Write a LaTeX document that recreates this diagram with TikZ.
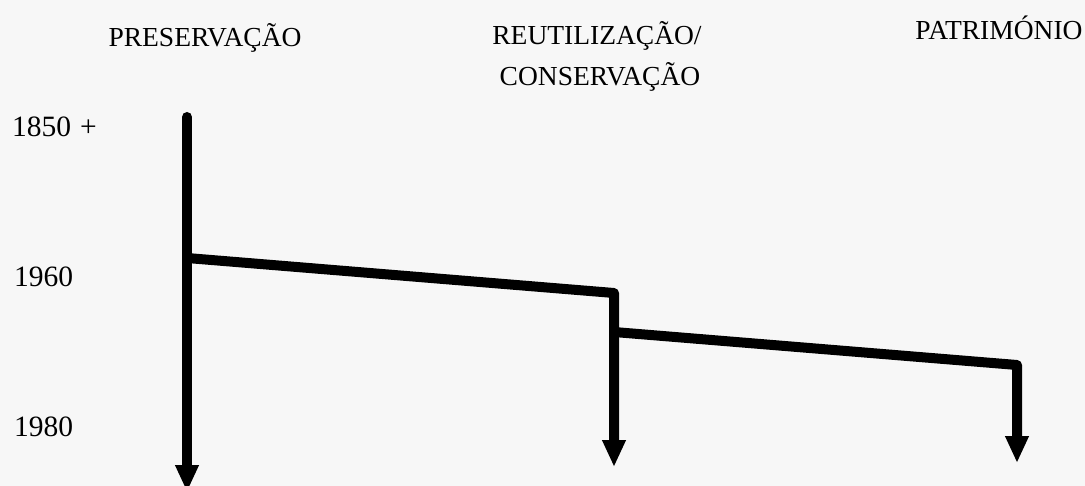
\documentclass[tikz,border=0pt]{standalone}
\usepackage{fontspec}
\setmainfont{Liberation Serif}
\usetikzlibrary{arrows.meta}
\definecolor{bgc}{RGB}{247,247,247}
\tikzset{
  heading/.style={anchor=base, inner sep=0pt, font=\fontsize{27.5}{31}\selectfont},
  year/.style={anchor=base west, inner sep=0pt, font=\fontsize{29.5}{33}\selectfont},
  flow/.style={line width=10pt, line join=round, line cap=round,
    -{Triangle[width=22pt,length=27pt]}}
}
\begin{document}
\begin{tikzpicture}[x=1pt,y=-1pt]
\useasboundingbox (0,0) rectangle (1085,486);
\fill[bgc] (0,0) rectangle (1085,486);
% headings
\node[heading] (pres) at (205,47) {PRESERVAÇÃO};
\node[heading] (reut) at (597,45) {REUTILIZAÇÃO/};
\node[heading] (cons) at (600,86) {CONSERVAÇÃO};
\node[heading] (patr) at (999,40) {PATRIMÓNIO};
% years
\node[year] (y1850) at (12,137) {1850\hspace{0.3em}+};
\node[year] (y1960) at (14,287) {1960};
\node[year] (y1980) at (14,436) {1980};
% junction points
\coordinate (a0) at (187,117);
\coordinate (a1) at (187,258);
\coordinate (aend) at (187,492);
\coordinate (b0) at (614,293);
\coordinate (b1) at (614,332);
\coordinate (bend) at (614,467);
\coordinate (c0) at (1017,365);
\coordinate (cend) at (1017,463);
% connectors
\draw[flow] (a0) -- (aend);
\draw[flow] (a1) -- (b0) -- (bend);
\draw[flow] (b1) -- (c0) -- (cend);
\end{tikzpicture}
\end{document}
